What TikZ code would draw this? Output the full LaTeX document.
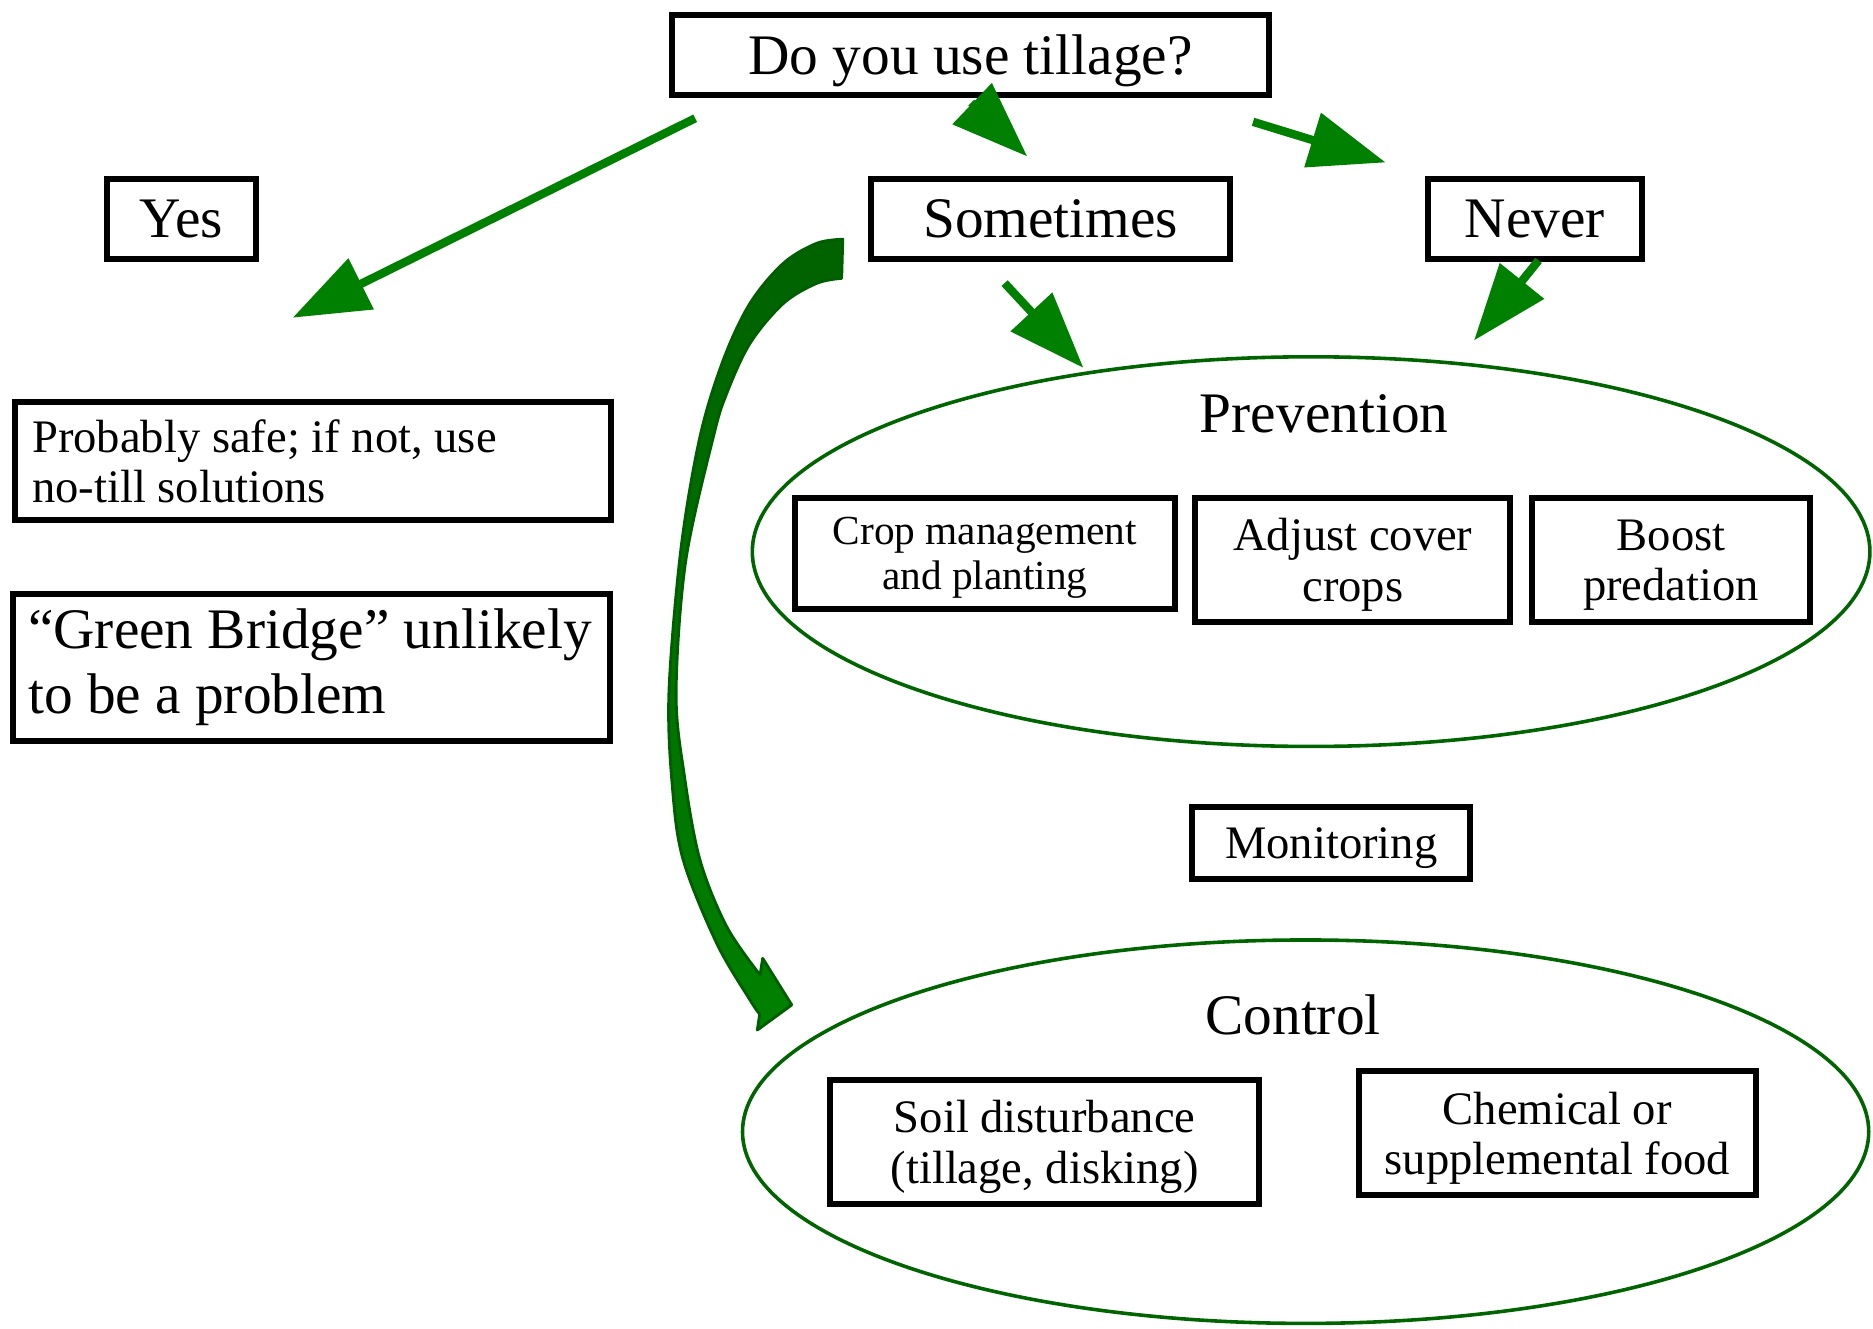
\documentclass[tikz,border=0pt]{standalone}
\usepackage{fontspec}
\setmainfont{Liberation Serif}
\usetikzlibrary{arrows.meta,shapes.geometric}
\definecolor{agreen}{RGB}{0,128,0}
\definecolor{ogreen}{RGB}{0,100,0}
\definecolor{cdark}{RGB}{0,98,0}
\definecolor{clight}{RGB}{0,128,0}
\definecolor{cedge}{RGB}{0,94,0}
\begin{document}
\begin{tikzpicture}[x=0.5pt,y=-0.5pt,
  bx/.style={draw=black,line width=2.5pt,fill=white,inner sep=0pt,align=center},
  nodepth/.style={text depth=0pt},
  big/.style={font=\fontsize{24}{27}\selectfont},
  mid/.style={font=\fontsize{19.5}{21}\selectfont},
  sml/.style={font=\fontsize{17.3}{19.1}\selectfont},
  garrow/.style={draw=agreen,line width=3.5pt,-{Triangle[length=32pt,width=23pt]}},
  oval/.style={ellipse,draw=ogreen,line width=1.5pt,inner sep=0pt}]
\useasboundingbox (0,0) rectangle (1568,1112);

% ellipses
\node[oval,minimum width=467.8pt,minimum height=163.1pt] (prev) at (1097.6,461.8) {};
\node[anchor=base,big] (prevt) at (1108.5,362.2) {Prevention};
\node[oval,minimum width=471.4pt,minimum height=160.5pt] (ctrl) at (1093,947.4) {};
\node[anchor=base,big] (ctrlt) at (1082.5,866) {Control};

% boxes
\node[bx,nodepth,big,minimum width=250pt,minimum height=33.5pt] (q) at (812.5,46) {Do you use tillage?};
\node[bx,nodepth,big,minimum width=62.5pt,minimum height=33.5pt] (yes) at (152,183) {Yes};
\node[bx,nodepth,big,minimum width=150pt,minimum height=33.5pt] (some) at (879.5,183) {Sometimes};
\node[bx,nodepth,big,minimum width=89.5pt,minimum height=33.5pt] (never) at (1285,183) {Never};
\node[bx,mid,inner xsep=7.4pt,text width=235pt,align=flush left,minimum height=49.5pt] (safe) at (262,386) {Probably safe; if not, use\\no-till solutions};
\node[bx,big,inner xsep=6.5pt,text width=237pt,align=flush left,minimum height=61.5pt] (bridge) at (260.5,558.5) {“Green Bridge” unlikely\\to be a problem};
\node[bx,nodepth,sml,minimum width=159pt,minimum height=46.3pt] (crop) at (824.5,463.2) {Crop management\\and planting};
\node[bx,nodepth,mid,minimum width=132pt,minimum height=51.8pt] (cover) at (1132.5,468.7) {Adjust cover\\crops};
\node[bx,nodepth,mid,minimum width=116.5pt,minimum height=51.8pt] (boost) at (1399,468.7) {Boost\\predation};
\node[bx,nodepth,mid,minimum width=116.5pt,minimum height=30pt] (monit) at (1114.5,705.5) {Monitoring};
\node[bx,nodepth,mid,minimum width=179.6pt,minimum height=51.7pt] (soil) at (874.5,955.9) {Soil disturbance\\(tillage, disking)};
\node[bx,nodepth,mid,minimum width=166.4pt,minimum height=51.7pt] (chem) at (1303.7,948.6) {Chemical or\\supplemental food};

% arrow end points
\coordinate (a1s) at (582,99);   \coordinate (a1t) at (245,266);
\coordinate (a2s) at (813,86);   \coordinate (a2t) at (860,131);
\coordinate (a3s) at (1049,102); \coordinate (a3t) at (1160,136);
\coordinate (a4s) at (841,237);  \coordinate (a4t) at (907,308);
\coordinate (a5s) at (1288,218); \coordinate (a5t) at (1234,285);

\draw[garrow] (a1s) -- (a1t);
\draw[garrow] (a2s) -- (a2t);
\draw[garrow] (a3s) -- (a3t);
\draw[garrow] (a4s) -- (a4t);
\draw[garrow] (a5s) -- (a5t);

% curved arrow from Sometimes to Control
\path[top color=cdark,bottom color=clight,draw=cedge,line width=1.2pt,line join=round]
  plot[smooth,tension=0.55] coordinates {(705.5,200.3) (683.7,203.7) (655.8,220.4) (627.9,253.9) (605.5,301.4) (586,365.6) (570,460) (560,580) (563,660) (572,720) (600,789.7) (627.9,837.2) (636,849)}
  -- (634,862.3) -- (662.8,841.3) -- (638.5,802.3) -- (636.3,816.2)
  -- plot[smooth,tension=0.55] coordinates {(636.3,816.2) (608.4,775.8) (586,720) (573,650) (566,580) (574,470) (597.2,365.6) (608.4,329.3) (627.9,287.4) (655.8,254) (683.7,237.2) (704.6,233)}
  -- cycle;
\end{tikzpicture}
\end{document}
